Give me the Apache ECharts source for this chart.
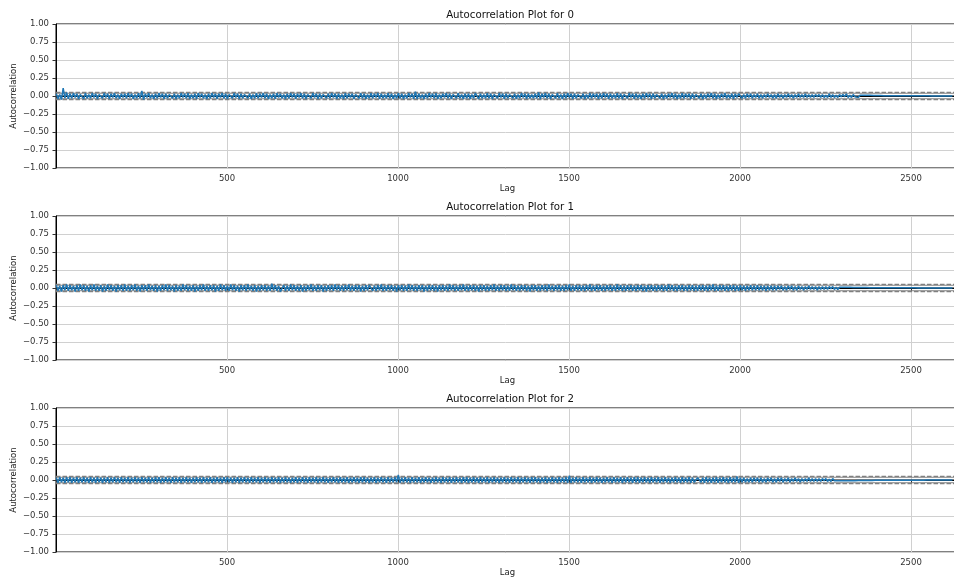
<!DOCTYPE html>
<html>
<head>
<meta charset="utf-8">
<script src="https://cdn.jsdelivr.net/npm/echarts@6/dist/echarts.min.js"></script>
<style>html,body{margin:0;padding:0;background:#fff}#c{width:954px;height:578px}</style>
</head>
<body>
<div id="c"></div>
<script>
const plotTitles = ['Autocorrelation Plot for 0', 'Autocorrelation Plot for 1', 'Autocorrelation Plot for 2'];
const xTicks = [500, 1000, 1500, 2000, 2500];
const lagStep = 5;             // one sampled lag every 5 lags, starting at lag 1
const nObs = 2640;             // number of observations (x range end)
// confidence bands: 99% dashed, 95% solid, zero line black
const bandValues = [0.0501, 0.0381, 0.0, -0.0381, -0.0501];
const bandKinds = ['dash', 'solid', 'zero', 'solid', 'dash'];

const acf0 = [
0.03,-0.04,0.02,-0.05,0.11,-0.03,0.05,-0.04,0.03,-0.03,0.04,-0.02,0.03,-0.04,0.02,0.03,-0.04,0.04,-0.03,0.02,
-0.03,0.04,-0.02,0.03,-0.04,0.02,0.03,-0.03,0.04,-0.02,0.03,-0.04,0.03,-0.02,0.04,-0.03,0.02,-0.04,0.03,-0.02,
0.03,-0.03,0.04,-0.02,0.03,-0.04,0.02,-0.03,0.04,-0.03,0.07,-0.05,0.03,-0.02,0.04,-0.03,0.02,-0.04,0.03,-0.03,
0.04,-0.02,0.03,-0.04,0.03,-0.03,0.02,0.04,-0.03,0.03,-0.04,0.02,-0.03,0.04,-0.02,0.03,-0.03,0.04,-0.04,0.02,
-0.03,0.03,-0.04,0.04,-0.02,0.03,-0.03,0.02,-0.04,0.03,-0.03,0.04,-0.02,0.03,-0.04,0.03,-0.02,0.04,-0.03,0.03,
-0.04,0.02,0.03,-0.03,0.04,-0.02,0.03,-0.04,0.03,-0.03,0.02,0.04,-0.03,0.03,-0.04,0.02,-0.03,0.04,-0.03,0.03,
-0.02,0.04,-0.03,0.03,-0.04,0.02,-0.03,0.03,-0.04,0.04,-0.02,0.03,-0.03,0.02,-0.04,0.03,-0.03,0.04,-0.02,0.03,
-0.04,0.03,-0.02,0.04,-0.03,0.03,-0.04,0.02,0.03,-0.03,0.04,-0.02,0.03,-0.04,0.03,-0.03,0.02,0.04,-0.03,0.03,
-0.03,0.04,-0.02,0.03,-0.04,0.03,-0.03,0.02,-0.04,0.04,-0.03,0.03,-0.02,0.03,-0.04,0.02,0.03,-0.03,0.04,-0.03,
0.03,-0.04,0.02,-0.03,0.04,-0.03,0.03,-0.02,0.04,-0.04,0.03,-0.03,0.02,-0.03,0.04,-0.03,0.03,-0.04,0.02,-0.03,
0.04,-0.03,0.03,-0.04,0.02,-0.03,0.04,-0.02,0.03,-0.04,0.06,-0.04,0.03,-0.03,0.02,-0.04,0.03,-0.03,0.04,-0.02,
0.03,-0.03,0.04,-0.04,0.02,-0.03,0.03,-0.02,0.04,-0.03,0.03,-0.04,0.02,0.03,-0.03,0.04,-0.03,0.02,-0.04,0.03,
-0.03,0.03,-0.04,0.02,-0.03,0.04,0.05,-0.04,0.03,-0.03,0.02,-0.03,0.04,-0.03,0.03,-0.04,0.02,0.03,-0.03,0.04,
-0.02,0.03,-0.04,0.03,-0.03,0.02,0.04,-0.03,0.03,-0.04,0.02,-0.03,0.04,-0.02,0.03,-0.04,0.03,-0.03,0.02,-0.03,
0.03,-0.03,0.05,-0.04,0.03,-0.02,0.04,-0.03,0.03,-0.04,0.02,0.03,-0.03,0.04,-0.03,0.02,-0.04,0.03,-0.03,0.04,
-0.02,0.03,-0.04,0.03,-0.03,0.02,0.04,-0.03,0.03,-0.04,0.02,-0.03,0.04,-0.03,0.03,-0.02,0.03,-0.04,0.03,-0.03,
0.04,-0.02,0.03,-0.04,0.03,-0.03,0.02,-0.03,0.04,-0.03,0.03,-0.04,0.02,0.03,-0.03,0.04,-0.02,0.03,-0.04,0.03,
-0.03,0.02,-0.04,0.03,-0.03,0.04,-0.02,0.03,-0.04,0.03,-0.03,0.02,0.04,-0.03,0.03,-0.04,0.02,-0.03,0.03,-0.02,
0.04,-0.03,0.03,-0.04,0.02,-0.03,0.04,-0.03,0.03,-0.02,0.03,-0.04,0.03,-0.03,0.02,0.04,-0.03,0.03,-0.04,0.02,
-0.03,0.03,-0.02,0.04,-0.03,0.03,-0.04,0.02,-0.03,0.03,-0.02,0.04,-0.03,0.02,-0.03,0.03,-0.04,0.03,-0.02,0.03,
0.03,-0.03,0.02,-0.03,0.03,-0.02,0.03,-0.03,0.02,-0.02,0.03,-0.03,0.02,-0.03,0.02,-0.02,0.03,-0.02,0.02,-0.03,
0.02,-0.03,0.03,-0.02,0.02,-0.03,0.02,-0.02,0.03,-0.02,0.02,-0.03,0.02,-0.02,0.03,-0.02,0.02,-0.02,0.03,-0.02,
0.02,-0.02,0.02,-0.02,0.02,-0.01,0.02,-0.02,0.02,-0.02,0.01,-0.02,0.03,-0.02,0.02,-0.02,0.01,-0.02,0.02,-0.01,
0.02,-0.01,0.03,-0.02,0.01,-0.02,0.02,-0.01,0.01,-0.02,0.01,-0.01,0.01,-0.01,0.01,-0.01,0.01,-0.01,0.008,-0.008,
0.006,-0.008,0.006,-0.007,0.005,-0.006,0.005,-0.006,0.005,-0.005,0.004,-0.005,0.004,-0.005,0.004,-0.004,0.003,-0.004,0.003,-0.004,
0.003,-0.003,0.003,-0.003,0.002,-0.003,0.002,-0.002,0.002,-0.002,0.002,-0.002,0.001,-0.002,0.001,-0.001,0.001,-0.001,0.001,-0.001,
0.001,-0.001,0.001,0,0
];
const acf1 = [
0.04,-0.04,0.03,-0.05,0.04,-0.03,0.05,-0.04,0.04,-0.03,0.03,-0.05,0.04,-0.04,0.05,-0.03,0.04,-0.04,0.03,-0.05,
0.04,-0.03,0.05,-0.04,0.03,-0.04,0.04,-0.05,0.03,-0.04,0.05,-0.03,0.04,-0.04,0.03,-0.05,0.04,-0.03,0.04,-0.04,
0.05,-0.04,0.03,-0.04,0.04,-0.03,0.05,-0.04,0.03,-0.05,0.04,-0.03,0.04,-0.04,0.05,-0.03,0.03,-0.04,0.04,-0.05,
0.03,-0.04,0.04,-0.03,0.05,-0.04,0.04,-0.03,0.03,-0.05,0.04,-0.04,0.03,-0.04,0.05,-0.03,0.04,-0.04,0.03,-0.04,
0.04,-0.05,0.03,-0.04,0.04,-0.03,0.05,-0.04,0.03,-0.04,0.04,-0.03,0.04,-0.05,0.03,-0.04,0.05,-0.03,0.04,-0.04,
0.03,-0.04,0.05,-0.03,0.04,-0.04,0.03,-0.05,0.04,-0.03,0.04,-0.04,0.05,-0.03,0.03,-0.04,0.04,-0.05,0.03,-0.04,
0.04,-0.03,0.04,-0.04,0.03,-0.04,0.06,-0.03,0.04,-0.04,0.03,-0.05,-0.07,0.04,-0.04,0.03,-0.04,0.05,-0.03,0.04,
-0.04,0.03,-0.04,0.04,-0.05,0.03,-0.04,0.04,-0.03,0.05,-0.04,0.03,-0.04,0.04,-0.03,0.04,-0.05,0.03,-0.04,0.04,
-0.03,0.04,-0.04,0.05,-0.03,0.04,-0.04,0.03,-0.04,0.04,-0.03,0.05,-0.04,0.03,-0.04,0.04,-0.03,0.04,-0.05,0.03,
-0.04,0.04,-0.03,0.04,0.06,-0.04,0.03,-0.04,0.04,-0.03,0.05,-0.04,0.03,-0.04,0.04,-0.03,0.04,-0.04,0.03,-0.05,
0.04,-0.03,0.04,-0.04,0.03,-0.04,0.05,-0.03,0.04,-0.04,0.03,-0.04,0.04,-0.03,0.04,-0.05,0.03,-0.04,0.04,-0.03,
0.04,-0.04,0.03,-0.05,0.04,-0.03,0.04,-0.04,0.03,-0.04,0.05,-0.03,0.04,-0.04,0.03,-0.04,0.04,-0.03,0.05,-0.04,
0.03,-0.04,0.04,-0.03,0.04,-0.04,0.03,-0.05,0.04,-0.03,0.04,-0.04,0.03,-0.04,0.04,-0.03,0.05,-0.04,0.03,-0.04,
0.04,-0.03,0.04,-0.04,0.03,-0.04,0.05,-0.03,0.04,-0.04,0.03,-0.04,0.04,-0.03,0.04,-0.04,0.03,-0.05,0.04,-0.03,
0.04,-0.04,0.03,-0.04,0.04,-0.03,0.04,-0.04,0.05,-0.03,0.03,-0.04,0.04,-0.03,0.04,-0.04,0.03,-0.04,0.04,-0.03,
0.05,-0.04,0.03,-0.04,0.04,-0.03,0.04,-0.04,0.03,-0.04,0.04,-0.03,0.05,-0.04,0.03,-0.04,0.04,-0.03,0.04,-0.04,
0.03,-0.04,0.04,-0.03,0.04,-0.04,0.03,-0.04,0.05,-0.03,0.04,-0.04,0.03,-0.04,0.04,-0.03,0.04,-0.04,0.03,-0.04,
0.04,-0.03,0.04,-0.04,0.03,-0.05,0.04,-0.03,0.04,-0.04,0.03,-0.04,0.04,-0.03,0.04,-0.04,0.03,-0.04,0.05,-0.03,
0.04,-0.04,0.03,-0.04,0.04,-0.03,0.04,-0.04,0.03,-0.04,0.04,-0.03,0.04,-0.04,0.03,-0.04,0.04,-0.03,0.04,-0.04,
0.03,-0.04,0.04,-0.03,0.05,-0.04,0.03,-0.04,0.04,-0.03,0.04,-0.04,0.03,-0.04,0.04,-0.03,0.04,-0.04,0.03,-0.04,
0.04,-0.03,0.03,-0.04,0.03,-0.03,0.04,-0.03,0.03,-0.03,0.04,-0.03,0.03,-0.03,0.03,-0.04,0.03,-0.03,0.03,-0.03,
0.03,-0.03,0.03,-0.02,0.03,-0.03,0.02,-0.03,0.03,-0.02,0.03,-0.03,0.02,-0.03,0.03,-0.02,0.02,-0.03,0.02,-0.02,
0.03,-0.02,0.02,-0.02,0.02,-0.03,0.02,-0.02,0.02,-0.02,0.02,-0.02,0.02,-0.01,0.02,-0.02,0.01,-0.02,0.01,-0.01,
0.01,-0.01,0.01,-0.01,0.01,-0.01,0.008,-0.01,0.008,-0.008,0.007,-0.008,0.006,-0.007,0.006,-0.006,0.005,-0.006,0.005,-0.005,
0.004,-0.005,0.004,-0.005,0.004,-0.004,0.003,-0.004,0.003,-0.004,0.003,-0.003,0.003,-0.003,0.002,-0.003,0.002,-0.003,0.002,-0.002,
0.002,-0.002,0.002,-0.002,0.001,-0.002,0.001,-0.002,0.001,-0.001,0.001,-0.001,0.001,-0.001,0.001,-0.001,0.001,-0.001,0,-0.001,
0,0.001,0,0,0
];
const acf2 = [
0.03,-0.04,0.04,-0.03,0.03,-0.04,0.04,-0.03,0.04,-0.04,0.03,-0.03,0.04,-0.04,0.03,-0.03,0.04,-0.03,0.03,-0.04,
0.04,-0.03,0.03,-0.04,0.04,-0.03,0.03,-0.04,0.03,-0.03,0.04,-0.04,0.03,-0.03,0.04,-0.03,0.03,-0.04,0.04,-0.03,
0.03,-0.03,0.04,-0.04,0.03,-0.03,0.04,-0.03,0.03,-0.04,0.04,-0.03,0.03,-0.03,0.04,-0.04,0.03,-0.03,0.04,-0.03,
0.04,-0.04,0.03,-0.03,0.04,-0.03,0.03,-0.04,0.04,-0.03,0.03,-0.03,0.04,-0.04,0.03,-0.03,0.04,-0.03,0.03,-0.04,
0.03,-0.03,0.04,-0.03,0.03,-0.04,0.04,-0.03,0.03,-0.03,0.04,-0.04,0.03,-0.03,0.04,-0.03,0.03,-0.04,0.04,-0.03,
0.04,-0.03,0.03,-0.04,0.03,-0.03,0.04,-0.04,0.03,-0.03,0.04,-0.03,0.03,-0.04,0.04,-0.03,0.03,-0.03,0.04,-0.04,
0.03,-0.03,0.04,-0.03,0.03,-0.04,0.04,-0.03,0.03,-0.03,0.04,-0.04,0.03,-0.03,0.04,-0.03,0.03,-0.04,0.03,-0.03,
0.04,-0.04,0.03,-0.03,0.04,-0.03,0.03,-0.04,0.04,-0.03,0.03,-0.03,0.04,-0.04,0.03,-0.03,0.04,-0.03,0.03,-0.04,
0.03,-0.03,0.04,-0.03,0.03,-0.04,0.04,-0.03,0.03,-0.03,0.04,-0.04,0.03,-0.03,0.04,-0.03,0.03,-0.04,0.04,-0.03,
0.04,-0.03,0.03,-0.04,0.03,-0.03,0.04,-0.04,0.03,-0.03,0.04,-0.03,0.03,-0.04,0.04,-0.03,0.03,-0.03,0.04,-0.03,
0.07,-0.04,0.03,-0.03,0.04,-0.03,0.03,-0.04,0.04,-0.03,0.03,-0.03,0.04,-0.04,0.03,-0.03,0.04,-0.03,0.03,-0.04,
0.03,-0.03,0.04,-0.03,0.03,-0.04,0.04,-0.03,0.03,-0.03,0.04,-0.04,0.03,-0.03,0.04,-0.03,0.03,-0.04,0.04,-0.03,
0.04,-0.04,0.03,-0.03,0.04,-0.03,0.03,-0.04,0.04,-0.03,0.03,-0.03,0.04,-0.04,0.03,-0.03,0.04,-0.03,0.03,-0.04,
0.03,-0.03,0.04,-0.03,0.03,-0.04,0.04,-0.03,0.03,-0.03,0.04,-0.04,0.03,-0.03,0.04,-0.03,0.03,-0.04,0.04,-0.03,
0.04,-0.03,0.03,-0.04,0.03,-0.03,0.04,-0.04,0.03,-0.03,0.04,-0.03,0.03,-0.04,0.04,-0.03,0.03,-0.03,0.04,-0.04,
0.06,-0.04,0.03,-0.03,0.04,-0.03,0.03,-0.04,0.04,-0.03,0.03,-0.03,0.04,-0.04,0.03,-0.03,0.04,-0.03,0.03,-0.04,
0.03,-0.03,0.04,-0.03,0.03,-0.04,0.04,-0.03,0.03,-0.03,0.04,-0.04,0.03,-0.03,0.04,-0.03,0.03,-0.04,0.04,-0.03,
0.04,-0.04,0.03,-0.03,0.04,-0.03,0.03,-0.04,0.04,-0.03,0.03,-0.03,0.04,-0.04,0.03,-0.03,0.04,-0.03,0.03,-0.04,
0.03,-0.03,0.04,-0.03,0.03,-0.04,0.04,-0.03,0.03,-0.03,0.04,-0.04,0.03,-0.03,-0.05,0.03,0.04,-0.03,0.03,-0.04,
0.04,-0.03,0.03,-0.04,0.03,-0.03,0.04,-0.04,0.03,-0.03,0.04,-0.03,0.03,-0.04,0.04,-0.03,0.03,-0.03,0.05,-0.04,
0.03,-0.03,0.03,-0.03,0.02,-0.03,0.03,-0.03,0.03,-0.02,0.03,-0.03,0.03,-0.03,0.02,-0.03,0.03,-0.02,0.03,-0.03,
0.02,-0.03,0.03,-0.02,0.03,-0.03,0.02,-0.02,0.03,-0.03,0.02,-0.02,0.03,-0.02,0.02,-0.03,0.02,-0.02,0.02,-0.02,
0.03,-0.02,0.02,-0.02,0.02,-0.02,0.02,-0.02,0.02,-0.01,0.02,-0.02,0.01,-0.02,0.02,-0.01,0.01,-0.01,0.01,-0.01,
0.01,-0.01,0.01,-0.01,0.01,-0.01,0.008,-0.01,0.008,-0.008,0.007,-0.008,0.006,-0.007,0.006,-0.006,0.005,-0.006,0.005,-0.005,
0.004,-0.005,0.004,-0.005,0.004,-0.004,0.003,-0.004,0.003,-0.004,0.003,-0.003,0.003,-0.003,0.002,-0.003,0.002,-0.003,0.002,-0.002,
0.002,-0.002,0.002,-0.002,0.001,-0.002,0.001,-0.002,0.001,-0.001,0.001,-0.001,0.001,-0.001,0.001,-0.001,0.001,-0.001,0.001,-0.001,
0.001,0,0,0,0
];
const acfSeries = [acf0, acf1, acf2];

const FONT = 'DejaVu Sans';
const gridTops = [24, 216, 408];
const plotH = 144;
const plotLeft = 56;
const pxPerLag = 0.342;

const chart = echarts.init(document.getElementById('c'), null, {renderer: 'canvas'});
const grids = [], xAxes = [], yAxes = [], series = [], titles = [];
acfSeries.forEach((vals, k) => {
  grids.push({left: plotLeft, top: gridTops[k], width: nObs * pxPerLag, height: plotH,
    outerBoundsMode: 'none', containLabel: false,
    show: true, borderColor: '#000', borderWidth: 1, backgroundColor: 'transparent'});
  xAxes.push({type: 'value', gridIndex: k, min: 0, max: nObs, interval: 500,
    name: 'Lag', nameLocation: 'middle', nameGap: 16, nameMoveOverlap: false,
    nameTextStyle: {fontFamily: FONT, fontSize: 8.5, color: '#222'},
    axisLine: {show: true, lineStyle: {color: '#000', width: 1}},
    axisTick: {show: true, length: 3.5, inside: false, lineStyle: {color: '#333'}},
    axisLabel: {fontFamily: FONT, fontSize: 8.5, color: '#333', margin: 6,
      formatter: v => xTicks.indexOf(v) >= 0 ? String(v) : ''},
    splitLine: {show: true, lineStyle: {color: '#d0d0d0', width: 1}}
  });
  yAxes.push({type: 'value', gridIndex: k, min: -1, max: 1, interval: 0.25,
    name: 'Autocorrelation', nameLocation: 'middle', nameGap: 38, nameRotate: 90,
    nameMoveOverlap: false,
    nameTextStyle: {fontFamily: FONT, fontSize: 8.5, color: '#222'},
    axisLine: {show: true, lineStyle: {color: '#000', width: 1}},
    axisTick: {show: true, length: 3.5, lineStyle: {color: '#333'}},
    axisLabel: {fontFamily: FONT, fontSize: 8.5, color: '#333', margin: 7,
      formatter: v => v.toFixed(2).replace('-', '\u2212')},
    splitLine: {show: true, lineStyle: {color: '#d0d0d0', width: 1}}
  });
  bandValues.forEach((b, j) => {
    const kind = bandKinds[j];
    series.push({type: 'line', xAxisIndex: k, yAxisIndex: k, z: 1, silent: true,
      showSymbol: false, symbol: 'none', animation: false,
      lineStyle: {color: kind === 'zero' ? '#000' : '#808080', width: 1.2,
        type: kind === 'dash' ? [4.5, 2] : 'solid'},
      data: [[0, b], [nObs, b]]});
  });
  series.push({type: 'line', xAxisIndex: k, yAxisIndex: k, z: 10, silent: true,
    showSymbol: false, symbol: 'none', animation: false,
    lineStyle: {color: '#1f77b4', width: 1.5},
    data: vals.map((v, i) => [1 + i * lagStep, v])});
  titles.push({text: plotTitles[k], left: 505, top: gridTops[k] - 19, textAlign: 'center',
    textStyle: {fontFamily: FONT, fontSize: 10.2, fontWeight: 'normal', color: '#111'}});
});

chart.setOption({
  animation: false,
  backgroundColor: '#fff',
  title: titles,
  grid: grids, xAxis: xAxes, yAxis: yAxes, series: series
});
</script>
</body>
</html>
